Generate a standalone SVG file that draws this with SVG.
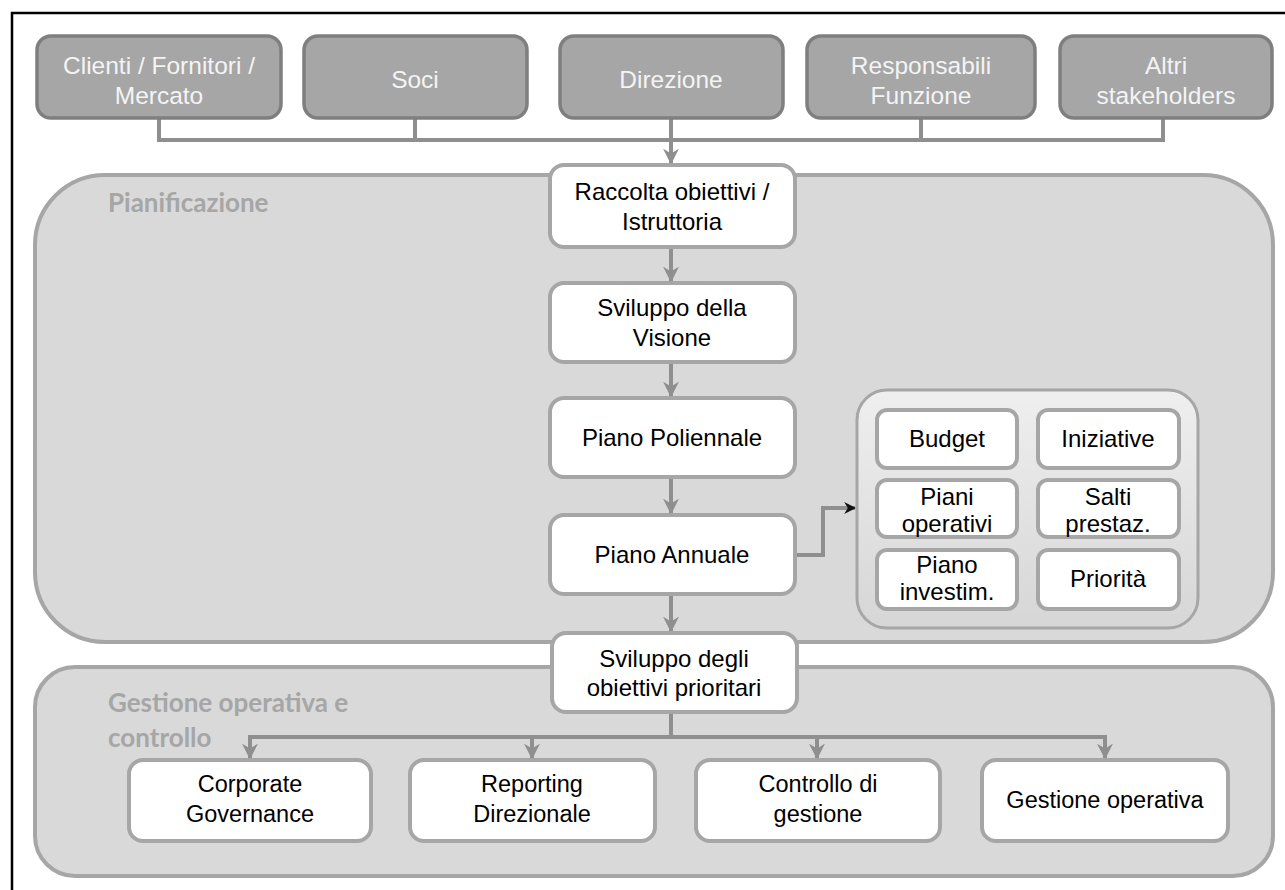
<svg xmlns="http://www.w3.org/2000/svg" width="1285" height="890" viewBox="0 0 1285 890">
<style>
.top rect{fill:#a6a6a6;stroke:#7f7f7f;stroke-width:3.5}
.top text{fill:#f4f4f4;font-family:"Liberation Sans",Arial,sans-serif;font-size:24.5px;text-anchor:middle}
.wb rect{fill:#ffffff;stroke:#a6a6a6;stroke-width:4}
.wb text{fill:#000;font-family:"Liberation Sans",Arial,sans-serif;font-size:24px;text-anchor:middle}
.bt text{font-size:23.5px}
.cont{fill:#d9d9d9;stroke:#a6a6a6;stroke-width:4}
.clabel{fill:#a6a6a6;font-family:Lato,"Open Sans",sans-serif;font-weight:bold;font-size:26px}
.conn path{fill:none;stroke:#8f8f8f;stroke-width:4}
</style>
<defs>
<marker id="ah" viewBox="0 0 10 10" refX="9" refY="5" markerWidth="4" markerHeight="4" orient="auto" markerUnits="strokeWidth">
<path d="M0,0 L10,5 L0,10 L3,5 z" fill="#8f8f8f"/>
</marker>
<marker id="ahk" viewBox="0 0 10 10" refX="9" refY="5" markerWidth="3" markerHeight="4" orient="auto" markerUnits="strokeWidth">
<path d="M0,0 L10,5 L0,10 L3,5 z" fill="#111"/>
</marker>
<linearGradient id="sg" x1="0" y1="0" x2="0" y2="1">
<stop offset="0" stop-color="#efefef"/>
<stop offset="1" stop-color="#d6d6d6"/>
</linearGradient>
</defs>
<rect width="1285" height="890" fill="#fff"/>
<path d="M12,890 V13 H1285" fill="none" stroke="#000" stroke-width="2.5"/>

<g id="pianificazione">
<rect class="cont" x="35" y="175" width="1238" height="467" rx="70"/>
<text class="clabel" x="108" y="212">Pianificazione</text>
</g>
<g id="gestione-operativa-controllo">
<rect class="cont" x="35" y="667" width="1238" height="209" rx="40"/>
<text class="clabel" x="108" y="712">Gestione operativa e</text>
<text class="clabel" x="108" y="747">controllo</text>
</g>

<g class="conn" id="connectors">
<path d="M159,119 V140 H1163 V119"/>
<path d="M415,119 V140"/>
<path d="M671,119 V140"/>
<path d="M921,119 V140"/>
<path d="M671,140 V163" marker-end="url(#ah)"/>
<path d="M671,247 V281" marker-end="url(#ah)"/>
<path d="M671,362 V396" marker-end="url(#ah)"/>
<path d="M671,477 V513" marker-end="url(#ah)"/>
<path d="M671,594 V631" marker-end="url(#ah)"/>
<path d="M792,555 H823 V508 H855" marker-end="url(#ahk)"/>
<path d="M671,712 V737"/>
<path d="M250,758 V737 H1105 V758"/>
<path d="M250,737 V758" marker-end="url(#ah)"/>
<path d="M532,737 V758" marker-end="url(#ah)"/>
<path d="M817,737 V758" marker-end="url(#ah)"/>
<path d="M1105,737 V758" marker-end="url(#ah)"/>
</g>

<g id="clienti" class="top">
<rect x="37" y="36" width="244" height="82" rx="14"/>
<text x="159" y="74">Clienti / Fornitori /</text>
<text x="159" y="104">Mercato</text>
</g>
<g id="soci" class="top">
<rect x="304" y="36" width="223" height="82" rx="14"/>
<text x="415" y="88">Soci</text>
</g>
<g id="direzione" class="top">
<rect x="560" y="36" width="223" height="82" rx="14"/>
<text x="671" y="88">Direzione</text>
</g>
<g id="responsabili" class="top">
<rect x="807" y="36" width="228" height="82" rx="14"/>
<text x="921" y="74">Responsabili</text>
<text x="921" y="104">Funzione</text>
</g>
<g id="altri" class="top">
<rect x="1060" y="36" width="212" height="82" rx="14"/>
<text x="1166" y="74">Altri</text>
<text x="1166" y="104">stakeholders</text>
</g>

<g id="raccolta" class="wb">
<rect x="550" y="165" width="245" height="82" rx="14"/>
<text x="672" y="200">Raccolta obiettivi /</text>
<text x="672" y="230">Istruttoria</text>
</g>
<g id="visione" class="wb">
<rect x="550" y="283" width="245" height="79" rx="14"/>
<text x="672" y="316">Sviluppo della</text>
<text x="672" y="346">Visione</text>
</g>
<g id="poliennale" class="wb">
<rect x="550" y="398" width="245" height="79" rx="14"/>
<text x="672" y="446">Piano Poliennale</text>
</g>
<g id="annuale" class="wb">
<rect x="550" y="515" width="245" height="79" rx="14"/>
<text x="672" y="563">Piano Annuale</text>
</g>
<g id="obiettivi-prioritari" class="wb">
<rect x="552" y="633" width="245" height="79" rx="14"/>
<text x="674" y="667">Sviluppo degli</text>
<text x="674" y="696">obiettivi prioritari</text>
</g>

<g id="strumenti">
<rect x="857" y="390" width="341" height="238" rx="30" fill="url(#sg)" stroke="#a6a6a6" stroke-width="3"/>
</g>
<g id="budget" class="wb">
<rect x="877" y="410" width="140" height="58" rx="10"/>
<text x="947" y="447">Budget</text>
</g>
<g id="iniziative" class="wb">
<rect x="1038" y="410" width="141" height="58" rx="10"/>
<text x="1108" y="447">Iniziative</text>
</g>
<g id="piani-operativi" class="wb">
<rect x="877" y="480" width="140" height="57" rx="10"/>
<text x="947" y="505">Piani</text>
<text x="947" y="532">operativi</text>
</g>
<g id="salti" class="wb">
<rect x="1038" y="480" width="141" height="57" rx="10"/>
<text x="1108" y="505">Salti</text>
<text x="1108" y="532">prestaz.</text>
</g>
<g id="investim" class="wb">
<rect x="877" y="550" width="140" height="59" rx="10"/>
<text x="947" y="573">Piano</text>
<text x="947" y="600">investim.</text>
</g>
<g id="priorita" class="wb">
<rect x="1038" y="550" width="141" height="59" rx="10"/>
<text x="1108" y="587">Priorità</text>
</g>

<g id="corporate" class="wb bt">
<rect x="129" y="760" width="242" height="81" rx="14"/>
<text x="250" y="792">Corporate</text>
<text x="250" y="822">Governance</text>
</g>
<g id="reporting" class="wb bt">
<rect x="410" y="760" width="245" height="81" rx="14"/>
<text x="532" y="792">Reporting</text>
<text x="532" y="822">Direzionale</text>
</g>
<g id="controllo" class="wb bt">
<rect x="696" y="760" width="244" height="81" rx="14"/>
<text x="818" y="792">Controllo di</text>
<text x="818" y="822">gestione</text>
</g>
<g id="gestione-op" class="wb bt">
<rect x="982" y="760" width="246" height="81" rx="14"/>
<text x="1105" y="808">Gestione operativa</text>
</g>
</svg>
